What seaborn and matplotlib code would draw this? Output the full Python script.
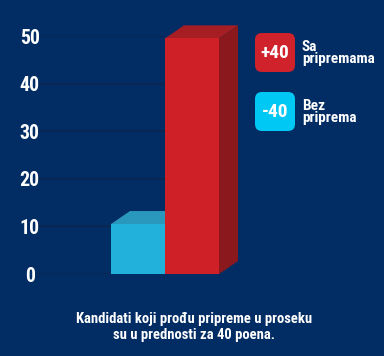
import matplotlib
matplotlib.use("Agg")
import matplotlib.pyplot as plt
from matplotlib import font_manager
from matplotlib.patches import Polygon, FancyBboxPatch
from matplotlib.transforms import IdentityTransform
import pandas as pd
import seaborn as sns

# data
groups = ["Bez priprema", "Sa pripremama"]
scores = [10.5, 49.5]
front_colors = ["#22b1db", "#cf2028"]
top_colors = ["#2a97bd", "#a61d23"]
side_colors = ["#1c8db0", "#8a181c"]
y_ticks = [0, 10, 20, 30, 40, 50]
legend_values = ["+40", "-40"]
legend_labels = ["Sa\npripremama", "Bez\npriprema"]
legend_colors = ["#d0222a", "#00c8f4"]
caption = "Kandidati koji prođu pripreme u proseku\nsu u prednosti za 40 poena."

BG = "#022c64"
GRID = "#0c2550"
W, H = 384, 356
DX, DY = 19, 13  # depth of the fake 3d bars, in pixels

# the original uses a condensed face; use one if it exists, else shrink a bit
narrow = None
for fam in ["Roboto Condensed", "Liberation Sans Narrow", "Open Sans Condensed"]:
    try:
        font_manager.findfont(font_manager.FontProperties(family=fam),
                              fallback_to_default=False)
        narrow = fam
        break
    except ValueError:
        pass
scale = 1.0 if narrow else 0.93

sns.set_theme(style="white")
plt.rcParams["font.family"] = ([narrow] if narrow else []) + ["Roboto", "DejaVu Sans"]
plt.rcParams["font.weight"] = "bold"

fig = plt.figure(figsize=(W / 100, H / 100), dpi=100, facecolor=BG)
# y=0 sits at 274px, y=50 at 36px from the top
ax = fig.add_axes([38 / W, (H - 274) / H, (W - 38) / W, 238 / H])
ax.set_facecolor("none")

df = pd.DataFrame({"group": groups, "score": scores})
sns.barplot(data=df, x="group", y="score", hue="group", palette=front_colors,
            width=1.0, saturation=1, legend=False, linewidth=0, ax=ax)

left = -0.5 - 73 / 54
ax.set_xlim(left, left + (W - 38) / 54)
ax.set_ylim(0, 50)
ax.set_yticks(y_ticks)
ax.set_xticks([])
ax.set_xlabel("")
ax.set_ylabel("")
for s in ax.spines.values():
    s.set_visible(False)
ax.tick_params(axis="y", length=0, pad=6, labelsize=14.3 * scale, labelcolor="white")
for lbl in ax.get_yticklabels():
    lbl.set_ha("center")
    lbl.set_fontweight("bold")

ax.hlines(y_ticks, left, 0.5, color=GRID, lw=1.2, zorder=0)

# top and side faces from each bar's own geometry
for i, p in enumerate(ax.patches):
    x0, y0 = ax.transData.transform((p.get_x(), 0))
    x1, y1 = ax.transData.transform((p.get_x() + p.get_width(), p.get_height()))
    z = 2 + 3 * i
    top = [(x0, y1), (x1, y1), (x1 + DX, y1 + DY), (x0 + DX, y1 + DY)]
    side = [(x1, y0), (x1, y1), (x1 + DX, y1 + DY), (x1 + DX, y0 + DY)]
    fig.add_artist(Polygon(side, closed=True, facecolor=side_colors[i], lw=0,
                           transform=IdentityTransform(), zorder=z))
    fig.add_artist(Polygon(top, closed=True, facecolor=top_colors[i], lw=0,
                           transform=IdentityTransform(), zorder=z))
    p.remove()
    fig.add_artist(p)
    p.set_transform(ax.transData)
    p.set_zorder(z + 1)

# legend boxes on the right
box_tops = [33, 92]
for val, lab, col, bt in zip(legend_values, legend_labels, legend_colors, box_tops):
    fig.add_artist(FancyBboxPatch((255, H - bt - 39), 40, 39,
                                  boxstyle="round,pad=0,rounding_size=7",
                                  facecolor=col, lw=0, transform=IdentityTransform()))
    fig.text(275 / W, (H - bt - 20) / H, val, color="white", fontsize=14 * scale,
             fontweight="bold", ha="center", va="center")
    fig.text(302 / W, (H - bt - 20) / H, lab, color="white", fontsize=11 * scale,
             fontweight="bold", ha="left", va="center", linespacing=0.8)

fig.text(194 / W, (H - 327) / H, caption, color="white", fontsize=10.5 * scale,
         fontweight="bold", ha="center", va="center", linespacing=1.15)

fig.savefig("out.png", dpi=100, facecolor=BG)
